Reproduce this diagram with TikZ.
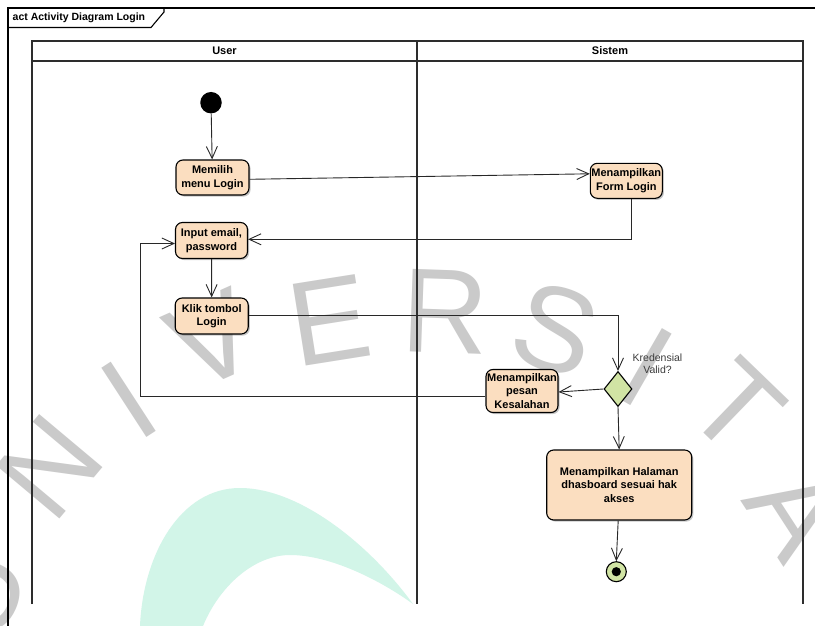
\documentclass[tikz,border=0pt]{standalone}
\usepackage{fontspec}
\setmainfont{Liberation Sans}
\usetikzlibrary{arrows.meta,shapes.geometric,shadows}
\definecolor{actfill}{RGB}{251,222,192}
\definecolor{decfill}{RGB}{209,228,164}
\definecolor{linegray}{RGB}{40,40,40}
\definecolor{lanegray}{RGB}{45,45,45}
\definecolor{wmgray}{RGB}{202,202,202}
\definecolor{mint}{RGB}{210,245,232}
\definecolor{labelgray}{RGB}{60,60,60}
\begin{document}
\begin{tikzpicture}[x=1pt,y=-1pt,
  action/.style={draw=black, line width=1.1pt, fill=actfill, rounded corners=7pt,
    align=center, inner sep=0pt, font=\bfseries\fontsize{11}{13.5}\selectfont,
    drop shadow={shadow xshift=1.6pt, shadow yshift=-1.6pt, fill=black, opacity=0.22}},
  flow/.style={draw=linegray, line width=0.9pt,
    -{Straight Barb[length=12pt,width=11pt,line width=0.9pt]}},
  lane/.style={draw=lanegray, line width=1.4pt},
  frameline/.style={draw=black, line width=1.1pt},
  hdr/.style={font=\bfseries\fontsize{11}{13}\selectfont, inner sep=0pt},
  wm/.style={text=wmgray, font=\fontsize{120}{120}\selectfont, inner sep=0pt},
]
\useasboundingbox (0,0) rectangle (815,626);
\fill[white] (0,0) rectangle (815,626);

% background arc
\fill[mint] (140,626) .. controls (143,555) and (180,488) .. (240,488)
  .. controls (300,488) and (370,545) .. (413,604)
  .. controls (380,580) and (330,555) .. (290,555)
  .. controls (255,555) and (220,585) .. (203,626) -- cycle;

% background lettering
\node[wm, rotate=66] (wmU) at (-22,592) {U};
\node[wm, rotate=50] (wmN) at (50,467) {N};
\node[wm, rotate=33] (wmI) at (129,400) {I};
\node[wm, rotate=24] (wmV) at (212,340) {V};
\node[wm, rotate=9]  (wmE) at (330,320) {E};
\node[wm, rotate=-2] (wmR) at (445,312) {R};
\node[wm, rotate=-18] (wmS) at (555,330) {S};
\node[wm, rotate=-30] (wmI2) at (647,367) {I};
\node[wm, rotate=-44] (wmT) at (737,407) {T};
\node[wm, rotate=-57] (wmA) at (797,512) {A};

% diagram frame
\draw[frameline] (815,8) -- (8,8) -- (8,626);
\draw[frameline] (8,27.5) -- (151,27.5) -- (164,12) -- (164,8);
\node[anchor=west, inner sep=0pt, font=\bfseries\fontsize{10.5}{12}\selectfont] (title) at (12.5,18) {act Activity Diagram Login};

% swimlanes
\draw[lane] (32,604) -- (32,41) -- (803,41) -- (803,604);
\draw[lane] (32,61) -- (803,61);
\draw[lane] (417,41) -- (417,604);
\node[hdr] (userhdr) at (224.5,51) {User};
\node[hdr] (sistemhdr) at (610,51) {Sistem};

% nodes
\node[circle, fill=black, minimum size=21.5pt, inner sep=0pt] (start) at (211,102.7) {};
\node[action, minimum width=73pt, minimum height=35pt] (memilih) at (212.5,177.5) {Memilih\\menu Login};
\node[action, minimum width=72pt, minimum height=35pt] (form) at (626.3,180.8) {Menampilkan\\Form Login};
\node[action, minimum width=72pt, minimum height=36pt] (input) at (211.5,240.5) {Input email,\\password};
\node[action, minimum width=73pt, minimum height=36pt] (klik) at (211.7,316) {Klik tombol\\Login};
\node[diamond, draw=black, line width=1.1pt, fill=decfill, minimum width=28pt,
      minimum height=35pt, inner sep=0pt] (dec) at (618,389) {};
\node[align=center, inner sep=0pt, text=labelgray, font=\fontsize{10.5}{12}\selectfont] (declabel) at (657.5,363.3) {Kredensial\\Valid?};
\node[action, minimum width=72pt, minimum height=43pt] (kes) at (522,391) {Menampilkan\\pesan\\Kesalahan};
\node[action, minimum width=145pt, minimum height=70pt] (hal) at (619.2,485) {Menampilkan Halaman\\dhasboard sesuai hak\\akses};
\node[circle, draw=black, line width=1.1pt, fill=decfill, minimum size=20pt, inner sep=0pt] (final) at (616.3,571.7) {};
\fill[black] (final.center) circle[radius=4.6pt];

% control flows
\draw[flow] (start) -- (memilih);
\draw[flow] ([yshift=-1.8pt]memilih.east) -- ([yshift=7pt]form.west);
\draw[flow] ([xshift=5.4pt]form.south) |- ([yshift=1.2pt]input.east);
\draw[flow] (input) -- (klik);
\draw[flow] ([yshift=1pt]klik.east) -| (dec.north);
\draw[flow] (dec.west) -- ([yshift=-1pt]kes.east);
\draw[flow] ([yshift=-5.7pt]kes.west) -| ([xshift=-35pt,yshift=-3pt]input.west) -- ([yshift=-3pt]input.west);
\draw[flow] (dec.south) -- (hal.north);
\draw[flow] ([xshift=-1pt]hal.south) -- (final.north);
\end{tikzpicture}
\end{document}
